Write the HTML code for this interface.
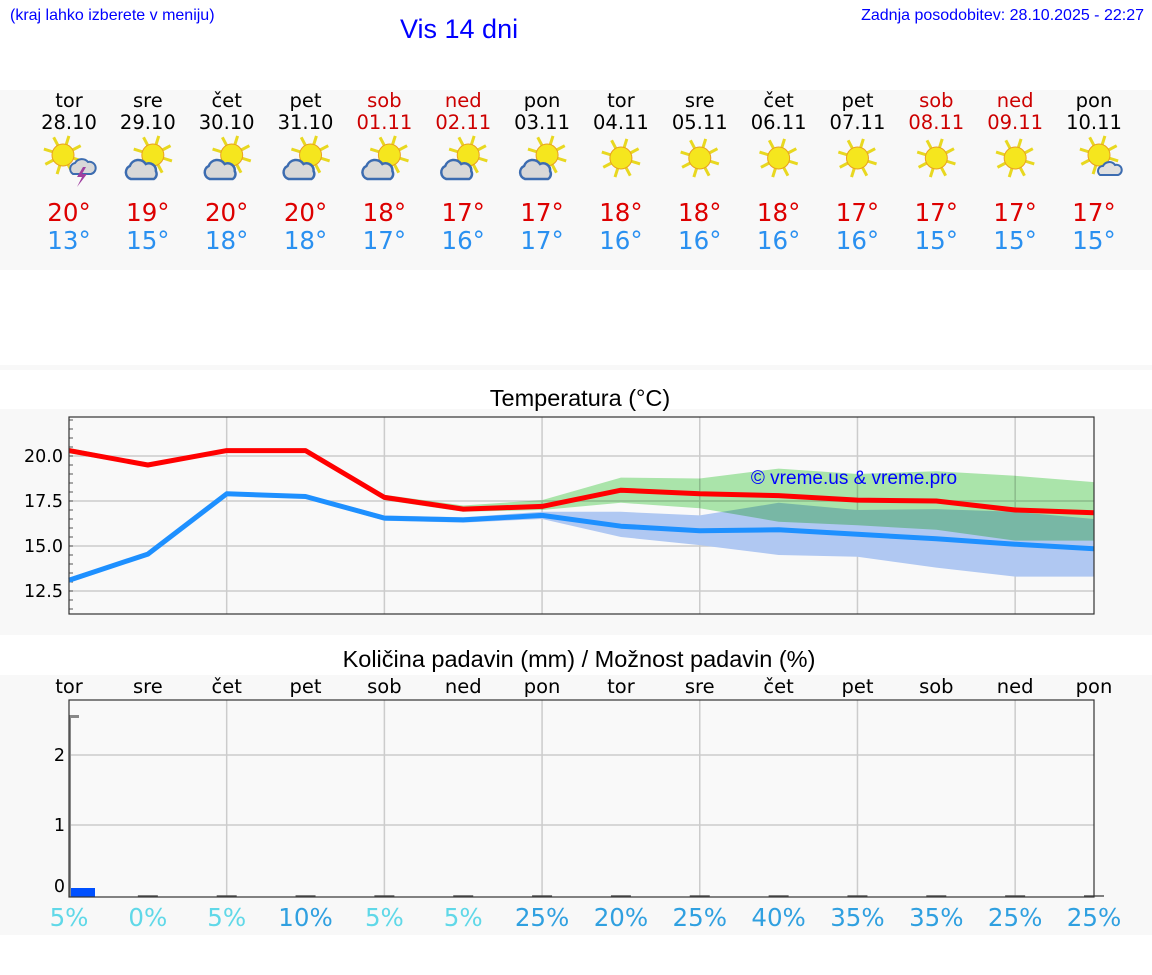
<!DOCTYPE html>
<html><head><meta charset="utf-8"><style>
body{margin:0;width:1152px;height:975px;background:#fff;font-family:"DejaVu Sans","Liberation Sans",sans-serif;position:relative;overflow:hidden}
.a{position:absolute}
</style></head><body>
<div class="a" style="left:10px;top:7px;font:16px 'Liberation Sans',sans-serif;color:#00f">(kraj lahko izberete v meniju)</div>
<div class="a" style="left:400px;top:14px;font:27px 'Liberation Sans',sans-serif;color:#00f">Vis 14 dni</div>
<div class="a" style="right:8px;top:7px;font:16px 'Liberation Sans',sans-serif;color:#00f">Zadnja posodobitev: 28.10.2025 - 22:27</div>
<div class="a" style="left:0;top:90px;width:1152px;height:180px;background:#f8f8f8"></div>
<div class="a" style="left:0;top:365px;width:1152px;height:5px;background:#f8f8f8"></div>
<div class="a" style="left:0;top:409px;width:1152px;height:226px;background:#f8f8f8"></div>
<div class="a" style="left:0;top:675px;width:1152px;height:260px;background:#f8f8f8"></div>
<div class="a" style="left:0;width:1160px;text-align:center;top:385px;font:23.5px 'Liberation Sans',sans-serif">Temperatura (°C)</div>
<div class="a" style="left:0;width:1158px;text-align:center;top:646px;font:23.5px 'Liberation Sans',sans-serif">Količina padavin (mm) / Možnost padavin (%)</div>
<svg class="a" style="left:0;top:0" width="1152" height="975" id="svg"></svg>
<script>
const days=["tor","sre","čet","pet","sob","ned","pon","tor","sre","čet","pet","sob","ned","pon"];
const dates=["28.10","29.10","30.10","31.10","01.11","02.11","03.11","04.11","05.11","06.11","07.11","08.11","09.11","10.11"];
const weekend=[0,0,0,0,1,1,0,0,0,0,0,1,1,0];
const icons=["storm","cloud","cloud","cloud","cloud","cloud","cloud","sun","sun","sun","sun","sun","sun","suncloud"];
const tmax=[20,19,20,20,18,17,17,18,18,18,17,17,17,17];
const tmin=[13,15,18,18,17,16,17,16,16,16,16,15,15,15];
const maxLine=[20.3,19.5,20.3,20.3,17.7,17.05,17.2,18.1,17.9,17.8,17.55,17.5,17.0,16.85];
const maxHi=[20.45,19.6,20.4,20.4,17.85,17.25,17.55,18.8,18.75,19.3,19.0,19.15,18.9,18.55];
const maxLo=[20.15,19.4,20.2,20.2,17.55,16.9,17.0,17.4,17.1,16.35,16.15,15.9,15.3,15.3];
const minLine=[13.1,14.55,17.9,17.75,16.55,16.45,16.7,16.1,15.85,15.9,15.65,15.4,15.1,14.85];
const minHi=[13.25,14.65,18.0,17.85,16.7,16.6,16.9,16.9,16.7,17.4,17.0,17.05,16.9,16.5];
const minLo=[12.95,14.45,17.8,17.65,16.4,16.3,16.5,15.5,15.05,14.5,14.4,13.8,13.3,13.3];
const precip=[0.1,0,0,0,0,0,0,0,0,0,0,0,0,0];
const precipMax=[2.55];
const chance=[5,0,5,10,5,5,25,20,25,40,35,35,25,25];
const tTicks=[12.5,15.0,17.5,20.0];
const pTicks=[0,1,2];
const svg=document.getElementById('svg');const NS='http://www.w3.org/2000/svg';
function mk(t,a,p){const e=document.createElementNS(NS,t);for(const k in a)e.setAttribute(k,a[k]);(p||svg).appendChild(e);return e;}
const X0=69,X1=1094;
const xd=i=>X0+i*(X1-X0)/13;
const yt=v=>456+(20-v)*18;
const yp=v=>895-v*70;
days.forEach((d,i)=>{
 const c=weekend[i]?'#c00':'#000';
 let t=mk('text',{x:xd(i),y:107,'text-anchor':'middle','font-size':19.5,fill:c});t.textContent=d;
 
 
 t=mk('text',{x:xd(i),y:129,'text-anchor':'middle','font-size':19.5,fill:c});t.textContent=dates[i];
 
 
 t=mk('text',{x:xd(i),y:221,'text-anchor':'middle','font-size':24.5,fill:'#d00'});t.textContent=tmax[i]+'°';
 
 
 t=mk('text',{x:xd(i),y:249,'text-anchor':'middle','font-size':24.5,fill:'#2a90f0'});t.textContent=tmin[i]+'°';
 
 
 const g=mk('g',{transform:`translate(${xd(i)},158)`});
 
 
 const ic=icons[i];
 const sx=ic=='sun'?0:(ic=='storm'?-6:5), sy=ic=='sun'?0:-3;
 for(let k=0;k<8;k++){const an=k*Math.PI/4+0.3;mk('line',{x1:sx+Math.cos(an)*11,y1:sy+Math.sin(an)*11,x2:sx+Math.cos(an)*20,y2:sy+Math.sin(an)*20,stroke:'#e8d820','stroke-width':3},g);}
 mk('circle',{cx:sx,cy:sy,r:11,fill:'#f5e61e',stroke:'#e8a020','stroke-width':1},g);
 if(ic=='cloud'){mk('path',{d:'M-17 21 a7 7 0 0 1 -1-13 a9 9 0 0 1 16-2 a7 7 0 0 1 10 7 a6 6 0 0 1 -2 8 z',fill:'#d8d8d8',stroke:'#3c6cb0','stroke-width':2.5},g);}
 if(ic=='storm'){mk('path',{d:'M4 16 a6 6 0 0 1 2-11 a8 8 0 0 1 13-1 a6 6 0 0 1 3 12 z',fill:'#d8d8d8',stroke:'#3c6cb0','stroke-width':2},g);mk('path',{d:'M14 9 l-6 10 h5 l-5 10 l10-13 h-5 l4-7z',fill:'#a040a0'},g);}
 if(ic=='suncloud'){mk('path',{d:'M6 17 a5 5 0 0 1 3-9 a7 7 0 0 1 12-1 a5 5 0 0 1 3 10 z',fill:'#e0e0e0',stroke:'#3c6cb0','stroke-width':2},g);}
});
mk('rect',{x:X0,y:417,width:X1-X0,height:197,fill:'#f9f9f9'});
tTicks.forEach(v=>{mk('line',{x1:X0,x2:X1,y1:yt(v),y2:yt(v),stroke:'#ccc','stroke-width':1.5});
 const t=mk('text',{x:63,y:yt(v)+6,'text-anchor':'end','font-size':17.5});t.textContent=v.toFixed(1);
 
 });
for(let v=11.5;v<22.2;v+=0.5)mk('line',{x1:X0,x2:X0+4,y1:yt(v),y2:yt(v),stroke:'#555','stroke-width':1});
for(let i=2;i<13;i+=2)mk('line',{x1:xd(i),x2:xd(i),y1:417,y2:614,stroke:'#ccc','stroke-width':1.5});
function band(hi,lo,col,name,blend){let d='M'+hi.map((v,i)=>xd(i)+' '+yt(v)).join('L')+'L'+lo.map((v,i)=>[xd(i),yt(v)]).reverse().map(p=>p.join(' ')).join('L')+'Z';
 const e=mk('path',{d,fill:col});if(blend)e.style.mixBlendMode='multiply';}
band(minHi,minLo,'#b0c8f2','min-temp-band');
band(maxHi,maxLo,'#aeeaae','max-temp-band',true);
function line(a,col,name){const e=mk('polyline',{points:a.map((v,i)=>xd(i)+','+yt(v)).join(' '),fill:'none',stroke:col,'stroke-width':5,'stroke-linejoin':'round'});
 }
line(minLine,'#1e90ff','min-temp-line');
line(maxLine,'#f00','max-temp-line');
mk('rect',{x:X0,y:417,width:X1-X0,height:197,fill:'none',stroke:'#333','stroke-width':1.2});
let wm=mk('text',{x:854,y:484,'text-anchor':'middle','font-size':19,fill:'#00f','font-family':'Liberation Sans, sans-serif'});wm.textContent='© vreme.us & vreme.pro';


mk('rect',{x:X0,y:700,width:X1-X0,height:197,fill:'#f9f9f9'});
pTicks.forEach(v=>{if(v>0)mk('line',{x1:X0,x2:X1,y1:yp(v),y2:yp(v),stroke:'#ccc','stroke-width':1.5});
 const t=mk('text',{x:65,y:(v==0?892:yp(v)+6),'text-anchor':'end','font-size':17.5});t.textContent=v;
 
 });
for(let i=2;i<13;i+=2)mk('line',{x1:xd(i),x2:xd(i),y1:700,y2:897,stroke:'#ccc','stroke-width':1.5});
days.forEach((d,i)=>{
 let t=mk('text',{x:xd(i),y:693,'text-anchor':'middle','font-size':19.5});t.textContent=d;
 
 
 const pc=chance[i];
 t=mk('text',{x:xd(i),y:926,'text-anchor':'middle','font-size':24.5,fill:pc>=10?'#30a0e0':'#60d8e8'});t.textContent=pc+'%';
 
 
 if(i>0)mk('line',{x1:xd(i)-10,x2:xd(i)+10,y1:896,y2:896,stroke:'#555','stroke-width':1.5});
 if(precip[i]>0){
 const b=mk('rect',{x:xd(i)+2,y:yp(precip[i]),width:24,height:895-yp(precip[i])+2,fill:'#0050ff'});
 
 }
});
const pm=mk('line',{x1:X0,x2:X0+10,y1:yp(precipMax[0]),y2:yp(precipMax[0]),stroke:'#888','stroke-width':3});


mk('line',{x1:X0+1,x2:X0+1,y1:yp(precipMax[0]),y2:897,stroke:'#888','stroke-width':2});
mk('rect',{x:X0,y:700,width:X1-X0,height:197,fill:'none',stroke:'#333','stroke-width':1.2});
</script>
</body></html>
